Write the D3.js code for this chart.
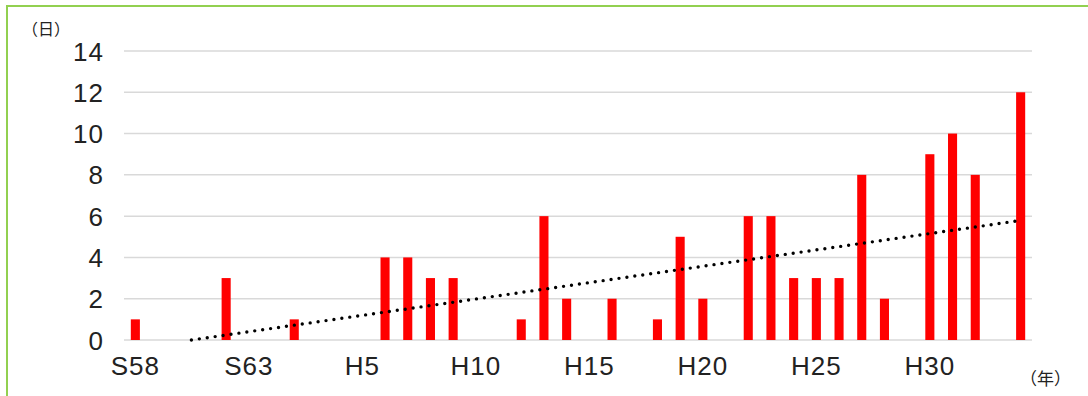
<!DOCTYPE html>
<html>
<head>
<meta charset="utf-8">
<script src="https://cdn.jsdelivr.net/npm/d3@7"></script>
<style>
  html, body { margin: 0; padding: 0; background: #fff; }
  svg { display: block; }
  text { font-family: "Liberation Sans", Arial, sans-serif; fill: #222; }
  .cjk { font-family: "Noto Sans CJK JP", sans-serif; }
</style>
</head>
<body>
<svg id="chart" width="1088" height="396"></svg>
<script>
// Fiscal years S58 (1983) through R4 (2022)
const years = d3.range(1983, 2023);
// Days per year (only non-zero years listed)
const dayYears  = [1983, 1987, 1990, 1994, 1995, 1996, 1997, 2000, 2001, 2002, 2004, 2006, 2007, 2008, 2010, 2011, 2012, 2013, 2014, 2015, 2016, 2018, 2019, 2020, 2022];
const dayValues = [1,    3,    1,    4,    4,    3,    3,    1,    6,    2,    2,    1,    5,    2,    6,    6,    3,    3,    3,    8,    2,    9,    10,   8,    12];
// Era labels on the category axis
const tickYears  = [1983, 1988, 1993, 1998, 2003, 2008, 2013, 2018];
const tickLabels = ["S58", "S63", "H5", "H10", "H15", "H20", "H25", "H30"];
const yTicks = [0, 2, 4, 6, 8, 10, 12, 14];

const valueByYear = new Map(dayYears.map((y, i) => [y, dayValues[i]]));
const series = years.map(y => ({ year: y, value: valueByYear.get(y) || 0 }));

const svg = d3.select("#chart");
const plotLeft = 124, plotRight = 1032, plotTop = 51, plotBottom = 340;

const x = d3.scaleBand().domain(years).range([plotLeft, plotRight]).paddingInner(0.6).paddingOuter(0.3);
const y = d3.scaleLinear().domain([0, 14]).range([plotBottom, plotTop]);

// Outer frame
svg.append("rect")
  .attr("x", 7).attr("y", 6).attr("width", 1200).attr("height", 500)
  .attr("fill", "none").attr("stroke", "#92d050").attr("stroke-width", 2);

// Horizontal gridlines
svg.append("g")
  .selectAll("line").data(yTicks).join("line")
  .attr("x1", plotLeft).attr("x2", plotRight)
  .attr("y1", d => y(d)).attr("y2", d => y(d))
  .attr("stroke", "#d9d9d9").attr("stroke-width", 1.5);

// Y axis labels
svg.append("g")
  .selectAll("text").data(yTicks).join("text")
  .attr("x", 104).attr("y", d => y(d) + 9.5)
  .attr("text-anchor", "end")
  .attr("font-size", 26)
  .attr("letter-spacing", 1)
  .text(d => d);

// Bars
svg.append("g")
  .selectAll("rect").data(series.filter(d => d.value > 0)).join("rect")
  .attr("x", d => x(d.year)).attr("width", x.bandwidth())
  .attr("y", d => y(d.value)).attr("height", d => y(0) - y(d.value))
  .attr("fill", "#ff0000");

// Linear trend line (least squares over all years), clipped to the plot area
const n = series.length;
const xs = d3.range(1, n + 1);
const mx = d3.mean(xs), my = d3.mean(series, d => d.value);
const sxy = d3.sum(series, (d, i) => (xs[i] - mx) * (d.value - my));
const sxx = d3.sum(xs, v => (v - mx) * (v - mx));
const slope = sxy / sxx, intercept = my - slope * mx;
const cx = i => x(years[0]) + x.bandwidth() / 2 + (i - 1) * x.step();

// Start the line where the fit crosses zero so it stays inside the plot
const iStart = Math.max(1, -intercept / slope);

svg.append("line")
  .attr("x1", cx(iStart)).attr("y1", y(intercept + slope * iStart))
  .attr("x2", cx(n)).attr("y2", y(intercept + slope * n))
  .attr("stroke", "#000").attr("stroke-width", 3.4)
  .attr("stroke-linecap", "round")
  .attr("stroke-dasharray", "0 8");

// X axis labels
svg.append("g")
  .selectAll("text").data(tickYears).join("text")
  .attr("x", d => x(d) + x.bandwidth() / 2).attr("y", 375)
  .attr("text-anchor", "middle")
  .attr("font-size", 26)
  .attr("letter-spacing", 1)
  .text((d, i) => tickLabels[i]);

// Unit labels
svg.append("text").attr("class", "cjk")
  .attr("x", 22).attr("y", 35).attr("font-size", 16).text("（日）");
svg.append("text").attr("class", "cjk")
  .attr("x", 1020).attr("y", 385).attr("font-size", 17).text("（年）");
</script>
</body>
</html>
